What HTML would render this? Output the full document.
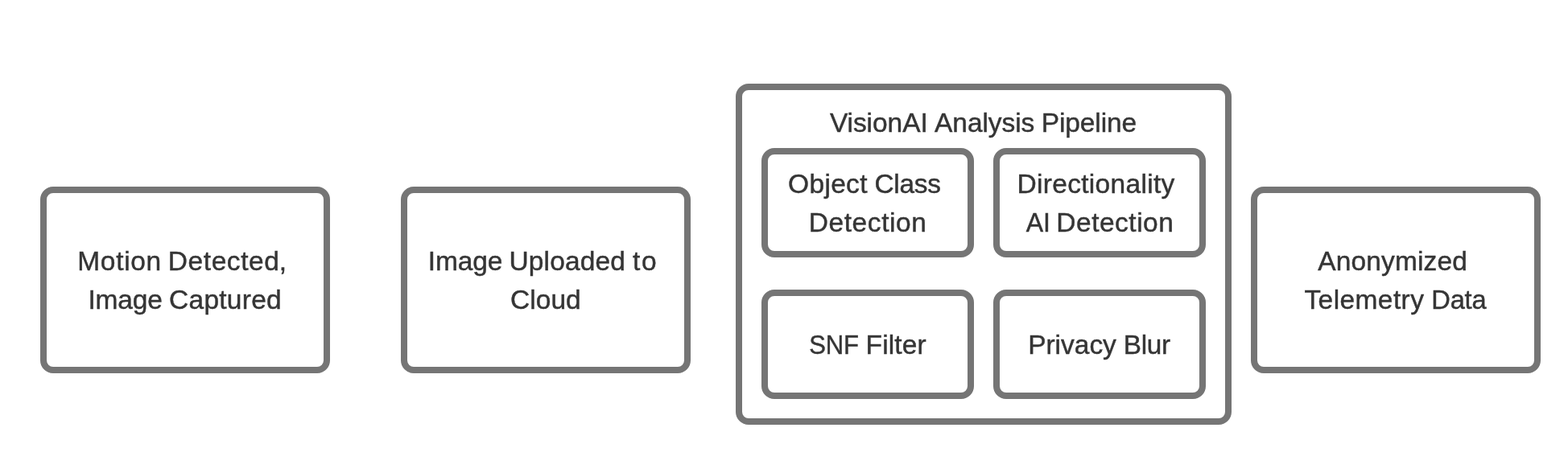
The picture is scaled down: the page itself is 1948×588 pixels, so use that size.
<!DOCTYPE html>
<html lang="en">
<head>
<meta charset="utf-8">
<title>VisionAI Analysis Pipeline</title>
<style>
*{box-sizing:border-box}
html,body{margin:0;padding:0;background:#fff}
body{position:relative;width:1948px;height:588px;overflow:hidden;font-family:"Liberation Sans",sans-serif;font-size:33.5px;line-height:48px;color:#353535}
main{position:absolute;left:0;top:0;width:1948px;height:588px;will-change:transform}
.box{position:absolute;border:8px solid #757575;border-radius:16px;background:#fff}
.label{margin:0;padding:0;font-weight:400;font-size:inherit}
.ln{position:absolute;display:block;height:48px;white-space:pre;-webkit-text-stroke:0.45px #353535}
.ln span{display:inline-block;vertical-align:top;transform-origin:0 0}
</style>
</head>
<body>
<main>
<div class="box step" style="left:50px;top:232px;width:360px;height:232px">
<p class="label"><span class="ln" style="left:38px;top:61px"><span style="margin-left:0.25px;letter-spacing:0.686px">Motion </span><span style="margin-left:-2.20px;letter-spacing:0.589px">Detected</span><span style="margin-left:-0.85px">,</span></span>
<span class="ln" style="left:51px;top:109px"><span style="margin-left:0.41px;letter-spacing:-0.145px">Image </span><span style="margin-left:-0.90px;letter-spacing:0.261px">Captured</span></span></p>
</div>
<div class="box step" style="left:498px;top:232px;width:360px;height:232px">
<p class="label"><span class="ln" style="left:25px;top:61px"><span style="margin-left:0.80px;letter-spacing:-0.145px">Image </span><span style="margin-left:-0.88px;letter-spacing:0.136px">Uploaded </span><span style="margin-left:-0.48px;letter-spacing:1.722px">to</span></span>
<span class="ln" style="left:127px;top:109px"><span style="margin-left:0.89px;letter-spacing:0.078px">Cloud</span></span></p>
</div>
<section class="box group" style="left:914px;top:104px;width:616px;height:424px">
<h2 class="label"><span class="ln" style="left:108px;top:17px"><span style="margin-left:0.89px;letter-spacing:-0.064px">VisionAI </span><span style="margin-left:-0.86px;letter-spacing:-0.068px">Analysis </span><span style="margin-left:-0.82px;letter-spacing:-0.106px">Pipeline</span></span></h2>
<div class="box sub" style="left:24px;top:72px;width:264px;height:136px">
<p class="label"><span class="ln" style="left:25px;top:13px"><span style="margin-left:0.10px;letter-spacing:0.304px">Object </span><span style="margin-left:-1.36px;letter-spacing:-0.250px;transform:translateX(0.41px) scaleX(0.9957)">Class</span></span>
<span class="ln" style="left:50px;top:61px"><span style="margin-left:0.76px;letter-spacing:0.577px">Detection</span></span></p>
</div>
<div class="box sub" style="left:312px;top:72px;width:264px;height:136px">
<p class="label"><span class="ln" style="left:21px;top:13px"><span style="margin-left:0.45px;letter-spacing:0.317px">Directionality</span></span>
<span class="ln" style="left:32px;top:61px"><span style="letter-spacing:-0.250px;transform:translateX(0.83px) scaleX(0.9558)">AI </span><span style="margin-left:-1.92px;letter-spacing:0.507px">Detection</span></span></p>
</div>
<div class="box sub" style="left:24px;top:248px;width:264px;height:136px">
<p class="label"><span class="ln" style="left:51px;top:37px"><span style="letter-spacing:-0.250px;transform:translateX(0.36px) scaleX(0.9268)">SNF </span><span style="margin-left:-4.73px;letter-spacing:0.100px">Filter</span></span></p>
</div>
<div class="box sub" style="left:312px;top:248px;width:264px;height:136px">
<p class="label"><span class="ln" style="left:35px;top:37px"><span style="margin-left:0.18px;letter-spacing:-0.024px">Privacy </span><span style="margin-left:-1.14px;letter-spacing:-0.250px;transform:translateX(0.66px) scaleX(0.9951)">Blur</span></span></p>
</div>
</section>
<div class="box step" style="left:1554px;top:232px;width:360px;height:232px">
<p class="label"><span class="ln" style="left:75px;top:61px"><span style="margin-left:0.35px;letter-spacing:0.130px">Anonymized</span></span>
<span class="ln" style="left:58px;top:109px"><span style="margin-left:0.43px;letter-spacing:0.414px">Telemetry </span><span style="margin-left:-1.09px;letter-spacing:-0.250px;transform:translateX(0.29px) scaleX(0.9750)">Data</span></span></p>
</div>
</main>
</body>
</html>
